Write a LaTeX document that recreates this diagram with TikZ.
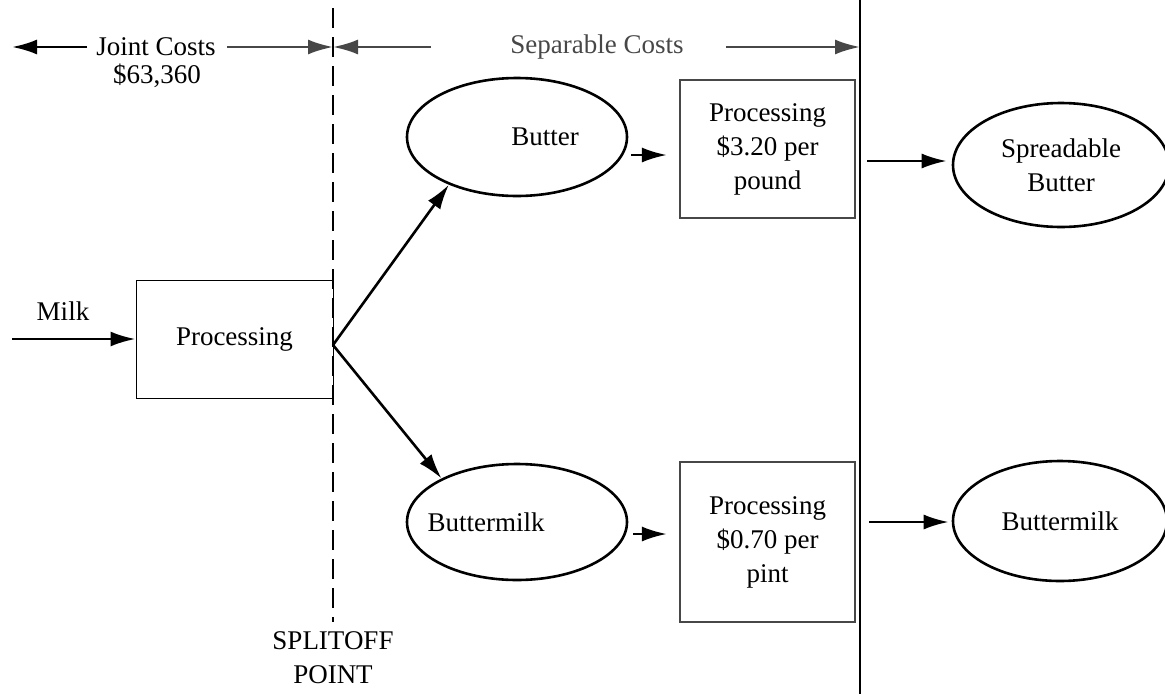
\documentclass[tikz,border=0pt]{standalone}
\usepackage{fontspec}
\setmainfont{Liberation Serif}
\usetikzlibrary{shapes.geometric,arrows.meta,calc}
\begin{document}
\begin{tikzpicture}[x=1pt,y=-1pt,
  txt/.style={font=\fontsize{27}{34}\selectfont, align=center, inner sep=0pt},
  oval/.style={ellipse, draw, line width=2.6pt, inner sep=0pt, txt},
  gbox/.style={rectangle, draw=black!72, line width=2.2pt, inner sep=0pt, txt},
  pbox/.style={rectangle, draw, line width=1pt, inner sep=0pt, txt},
  arr/.style={line width=2.6pt, -{Latex[length=25pt,width=15pt]}},
  garr/.style={draw=black!72, line width=2.4pt, -{Latex[length=25pt,width=15pt]}},
]
\useasboundingbox (0,0) rectangle (1165,694);
\clip (0,0) rectangle (1165,694);

% divider lines
\coordinate (dtop) at (333,8);
\coordinate (dbot) at (333,622);
\coordinate (stop) at (860,0);
\coordinate (sbot) at (860,694);
\draw[line width=2.8pt, dash pattern=on 20pt off 9pt] (dtop) -- (dbot);
\draw[line width=1.6pt] (stop) -- (sbot);

% cost headers
\node[txt] (jc) at (156,47) {Joint Costs};
\node[txt] (jv) at (157,76) {\$63,360};
\coordinate (jl) at (12,47);
\draw[arr] ($(jc.west)+(-9,0)$) -- (jl);
\draw[garr] ($(jc.east)+(11,0)$) -- (dtop |- jc);
\node[txt, text=black!72] (sc) at (597,47) {Separable Costs};
\draw[garr] ($(sc.west)+(-79,0)$) -- (dtop |- sc);
\draw[garr] ($(sc.east)+(42,0)$) -- (stop |- sc);

% joint process
\node[pbox, minimum width=197pt, minimum height=118pt] (proc) at (234.5,339) {Processing};
\node[txt] (milk) at (63,311) {Milk};
\coordinate (min) at (12,339);
\draw[arr] (min) -- (proc.west);
\coordinate (split) at (333,345);

% products at splitoff
\node[oval, minimum width=220pt, minimum height=118pt] (butter) at (517,137) {\makebox[0pt]{\hspace*{56pt}Butter}};
\node[oval, minimum width=220pt, minimum height=116pt] (bm) at (517,522) {\makebox[0pt]{Buttermilk\hspace*{62pt}}};
\draw[arr] (split) -- (butter.215);
\draw[arr] (split) -- (bm.150);

% separable processing
\node[gbox, minimum width=175pt, minimum height=138pt] (box1) at (767.5,149) {Processing\\\$3.20 per\\pound};
\node[gbox, minimum width=175pt, minimum height=160pt] (box2) at (767.5,542) {Processing\\\$0.70 per\\pint};
\draw[arr] ($(butter.east)+(3,18)$) -- ($(box1.west)+(-12,6)$);
\draw[arr] ($(bm.east)+(5,12)$) -- ($(box2.west)+(-12,-8)$);

% final products
\node[oval, minimum width=216pt, minimum height=124pt] (sb) at (1061,165) {Spreadable\\Butter};
\node[oval, minimum width=214pt, minimum height=120pt] (bm2) at (1060,521) {Buttermilk};
\draw[arr] ($(box1.east)+(11,12)$) -- ($(sb.west)+(-5,-4)$);
\draw[arr] ($(box2.east)+(13,-20)$) -- ($(bm2.west)+(-3,1)$);

% splitoff label
\node[txt] (spl) at (333,658) {SPLITOFF\\POINT};
\end{tikzpicture}
\end{document}
